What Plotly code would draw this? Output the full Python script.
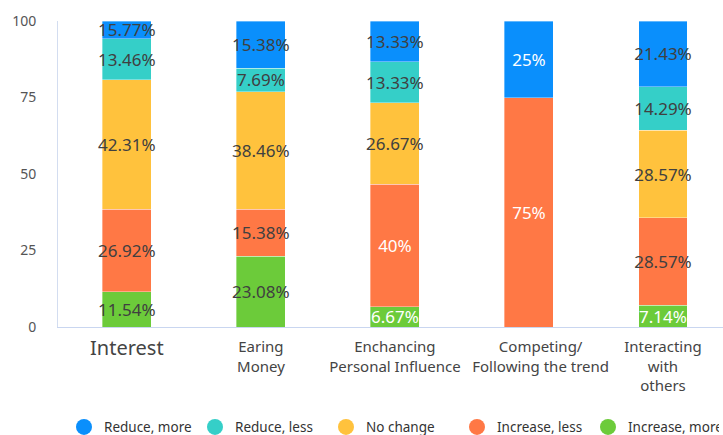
import plotly.graph_objects as go

categories = ["Interest", "Earing Money", "Enchancing Personal Influence",
              "Competing/ Following the trend", "Interacting with others"]
NB = "\u00a0" * 6
tick_labels = ["<sub><span style='font-size:20px'>Interest</span></sub>", "Earing<br>Money",
               "Enchancing<br>Personal Influence",
               NB + "Competing/<br>" + NB + "Following the trend",
               "Interacting<br>with<br>others"]
series_names = ["Reduce, more", "Reduce, less", "No change", "Increase, less", "Increase, more"]
reduce_more = [15.77, 15.38, 13.33, 25, 21.43]
reduce_less = [13.46, 7.69, 13.33, 0, 14.29]
no_change = [42.31, 38.46, 26.67, 0, 28.57]
increase_less = [26.92, 15.38, 40, 75, 28.57]
increase_more = [11.54, 23.08, 6.67, 0, 7.14]
y_ticks = [0, 25, 50, 75, 100]

colors = {
    "Reduce, more": "#0A8FFC",
    "Reduce, less": "#35CFC8",
    "No change": "#FFC23D",
    "Increase, less": "#FF7845",
    "Increase, more": "#6CCB3A",
}
D, W = "#404040", "#FFFFFF"
text_colors = {
    "Increase, more": [D, D, W, D, W],
    "Increase, less": [D, D, W, W, D],
    "No change": [D, D, D, D, D],
    "Reduce, less": [D, D, D, D, D],
    "Reduce, more": [D, D, D, W, D],
}

values = {
    "Reduce, more": reduce_more,
    "Reduce, less": reduce_less,
    "No change": no_change,
    "Increase, less": increase_less,
    "Increase, more": increase_more,
}
stack_order = ["Increase, more", "Increase, less", "No change", "Reduce, less", "Reduce, more"]

FONT = "Noto Sans, Open Sans, sans-serif"
fig = go.Figure()
cum = [0.0] * len(categories)
for name in stack_order:
    vals = values[name]
    vis = []
    for i, v in enumerate(vals):
        lo = min(cum[i], 100)
        hi = min(cum[i] + v, 100)
        vis.append(max(0.0, hi - lo))
        cum[i] += v
    fig.add_trace(go.Bar(
        x=categories, y=vis, name=name, showlegend=False,
        marker=dict(color=colors[name], line=dict(width=0.6, color="rgba(255,255,255,0.6)")),
        text=[("%g%%" % v) if v > 0 else None for v in vals],
        textposition="inside", insidetextanchor="middle",
        textangle=0, constraintext="none",
        textfont=dict(family=FONT, size=17, color=text_colors[name]),
        hovertemplate="%{x}<br>" + name + "<extra></extra>",
    ))

for name in series_names:
    fig.add_trace(go.Scatter(
        x=[None], y=[None], mode="markers", name=name,
        marker=dict(symbol="circle", size=16, color=colors[name]),
        showlegend=True,
    ))

fig.update_layout(
    width=723, height=435,
    margin=dict(l=58, r=0, t=21, b=108),
    barmode="stack", bargap=0.635,
    plot_bgcolor="white", paper_bgcolor="white",
    font=dict(family=FONT, color="#444444"),
    legend=dict(orientation="h", traceorder="normal",
                xref="container", yref="container",
                x=0.0885, xanchor="left", y=0.018, yanchor="middle",
                entrywidth=86, entrywidthmode="pixels",
                font=dict(size=13.5, color="#333333"), itemsizing="trace"),
    xaxis=dict(type="category", categoryorder="array", categoryarray=categories,
               tickmode="array", tickvals=categories, ticktext=tick_labels,
               range=[-0.514, 4.448], showgrid=False, showline=True,
               linecolor="#C9D6F0", linewidth=1, ticks="", tickangle=0,
               tickfont=dict(size=15, color="#444444"), ticklabelstandoff=6),
    yaxis=dict(range=[0, 100], tickvals=y_ticks, showgrid=False, zeroline=False,
               showline=True, linecolor="#D3DDF0", linewidth=1, ticks="",
               tickfont=dict(size=14, color="#555555"), ticklabelstandoff=18),
)

fig.write_html("out.html")
